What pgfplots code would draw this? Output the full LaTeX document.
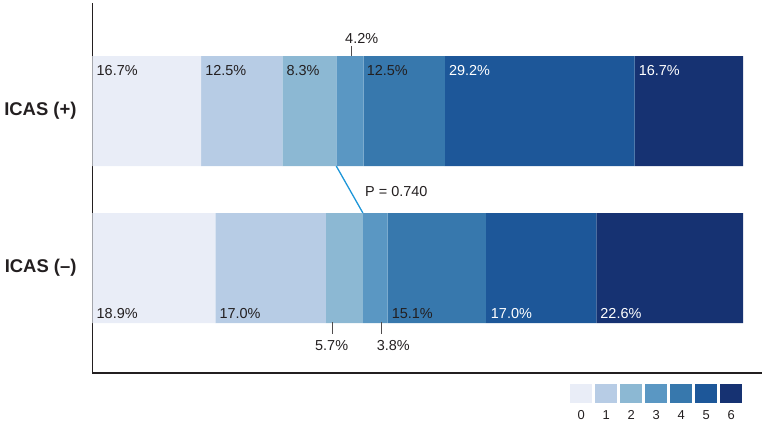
\documentclass[border=0pt]{standalone}
\usepackage{fontspec}
\setmainfont{Liberation Sans}
\usepackage{pgfplots}
\pgfplotsset{compat=1.18}
\definecolor{c0}{HTML}{E9EDF7}
\definecolor{c1}{HTML}{B7CCE5}
\definecolor{c2}{HTML}{8CB8D3}
\definecolor{c3}{HTML}{5A97C3}
\definecolor{c4}{HTML}{3778AD}
\definecolor{c5}{HTML}{1D5799}
\definecolor{c6}{HTML}{163272}
\definecolor{axisc}{HTML}{231F20}
\definecolor{txt}{HTML}{231F20}
\definecolor{conn}{HTML}{1E96D8}
\newcommand{\lab}{\fontsize{14.5}{17}\selectfont}
\newcommand{\leg}{\fontsize{13}{15}\selectfont}
\begin{document}
\begin{tikzpicture}
\begin{axis}[
 scale only axis, width=669.5bp, height=370bp,
 xmin=0, xmax=103, ymin=0, ymax=370,
 axis x line=bottom, axis y line=left,
 axis line style={-, line width=1.8bp, color=axisc},
 xtick=\empty, ytick=\empty,
 xbar stacked, bar width=110bp,
 clip=false,
]
% data: (percent, bar position) ; 262 = ICAS (+), 105 = ICAS (-)
\addplot[fill=c0, draw=none] coordinates {(16.7,262) (18.9,105)};
\addplot[fill=c1, draw=none] coordinates {(12.5,262) (17.0,105)};
\addplot[fill=c2, draw=none] coordinates {(8.3,262) (5.7,105)};
\addplot[fill=c3, draw=none] coordinates {(4.2,262) (3.8,105)};
\addplot[fill=c4, draw=none] coordinates {(12.5,262) (15.1,105)};
\addplot[fill=c5, draw=none] coordinates {(29.2,262) (17.0,105)};
\addplot[fill=c6, draw=none] coordinates {(16.7,262) (22.6,105)};
\coordinate (o) at (axis cs:0,0);
\end{axis}
% annotations in the axis' units (1 unit x = 6.5bp, 1 unit y = 1bp)
\begin{scope}[shift={(o)}, x=6.5bp, y=1bp]
% bounding box
\path (-14.23,-52) rectangle (103.46,373);

% category labels
\node[anchor=east, font=\fontsize{18.5}{22}\selectfont\bfseries, text=txt] at (-1.92,262) {ICAS (+)};
\node[anchor=east, font=\fontsize{18.5}{22}\selectfont\bfseries, text=txt] at (-1.92,105) {ICAS (–)};

% top bar labels
\node[anchor=base west, font=\lab, text=txt, xshift=4bp, inner sep=0] at (0,298) {16.7\%};
\node[anchor=base west, font=\lab, text=txt, xshift=4bp, inner sep=0] at (16.7,298) {12.5\%};
\node[anchor=base west, font=\lab, text=txt, xshift=4bp, inner sep=0] at (29.2,298) {8.3\%};
\node[anchor=base west, font=\lab, text=txt, xshift=3bp, inner sep=0] at (41.7,298) {12.5\%};
\node[anchor=base west, font=\lab, text=white, xshift=4bp, inner sep=0] at (54.2,298) {29.2\%};
\node[anchor=base west, font=\lab, text=white, xshift=4bp, inner sep=0] at (83.4,298) {16.7\%};
% 4.2 external
\draw[line width=0.9bp, color=txt!80] (39.77,317) -- (39.77,327);
\node[anchor=base west, font=\lab, text=txt, inner sep=0] at (38.85,330) {4.2\%};

% bottom bar labels
\node[anchor=base west, font=\lab, text=txt, xshift=4bp, inner sep=0] at (0,55) {18.9\%};
\node[anchor=base west, font=\lab, text=txt, xshift=4bp, inner sep=0] at (18.9,55) {17.0\%};
\node[anchor=base west, font=\lab, text=txt, xshift=4bp, inner sep=0] at (45.4,55) {15.1\%};
\node[anchor=base west, font=\lab, text=white, xshift=5bp, inner sep=0] at (60.5,55) {17.0\%};
\node[anchor=base west, font=\lab, text=white, xshift=4bp, inner sep=0] at (77.5,55) {22.6\%};
% external
\draw[line width=0.9bp, color=txt!80] (36.85,51) -- (36.85,39);
\node[anchor=base west, font=\lab, text=txt, inner sep=0] at (34.23,22.3) {5.7\%};
\draw[line width=0.9bp, color=txt!80] (44.38,51) -- (44.38,39);
\node[anchor=base west, font=\lab, text=txt, inner sep=0] at (43.72,22.3) {3.8\%};

% connector and P value
\draw[line width=1.3bp, color=conn] (37.5,207) -- (41.6,160);
\node[anchor=base west, font=\lab, text=txt, inner sep=0] at (41.92,177) {P = 0.740};

% legend
\fill[c0] (73.46,-11) rectangle (76.89,-30.3);
\fill[c1] (77.31,-11) rectangle (80.74,-30.3);
\fill[c2] (81.15,-11) rectangle (84.58,-30.3);
\fill[c3] (85.00,-11) rectangle (88.43,-30.3);
\fill[c4] (88.85,-11) rectangle (92.28,-30.3);
\fill[c5] (92.69,-11) rectangle (96.12,-30.3);
\fill[c6] (96.54,-11) rectangle (99.97,-30.3);
\node[anchor=base, font=\leg, text=txt, inner sep=0] at (75.18,-46.3) {0};
\node[anchor=base, font=\leg, text=txt, inner sep=0] at (79.02,-46.3) {1};
\node[anchor=base, font=\leg, text=txt, inner sep=0] at (82.87,-46.3) {2};
\node[anchor=base, font=\leg, text=txt, inner sep=0] at (86.71,-46.3) {3};
\node[anchor=base, font=\leg, text=txt, inner sep=0] at (90.56,-46.3) {4};
\node[anchor=base, font=\leg, text=txt, inner sep=0] at (94.41,-46.3) {5};
\node[anchor=base, font=\leg, text=txt, inner sep=0] at (98.25,-46.3) {6};
\end{scope}
\end{tikzpicture}
\end{document}
